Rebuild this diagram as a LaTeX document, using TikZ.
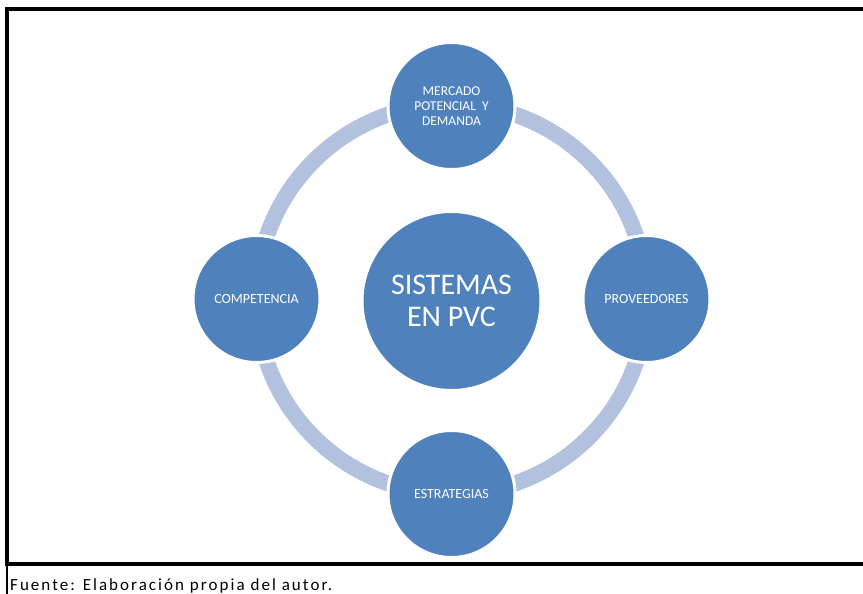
\documentclass[tikz,border=0pt]{standalone}
\usepackage{fontspec}
\setmainfont{Carlito}
\definecolor{circblue}{HTML}{4F81BD}
\definecolor{ringblue}{HTML}{B2C2DE}
\begin{document}
\begin{tikzpicture}[x=1pt,y=-1pt,
  sat/.style={circle,fill=circblue,draw=white,line width=3pt,minimum size=127pt,inner sep=0pt,
    text=white,align=center,font=\fontsize{14}{15}\selectfont},
  hub/.style={circle,fill=circblue,draw=white,line width=3pt,minimum size=179pt,inner sep=0pt,
    text=white,align=center,font=\fontsize{30}{32}\selectfont},
  ring/.style={draw=ringblue,line width=16pt}]
\useasboundingbox (0,0) rectangle (863,594);
% frame
\draw[line width=4pt] (6.5,565) -- (6.5,9) -- (863,9);
\draw[line width=4pt] (5,564) -- (863,564);
\draw[line width=2pt] (7,564) -- (7,594);
% ring
\coordinate (c) at (451.5,299);
\draw[ring] (c) circle (195);
% nodes
\node[hub] (center) at (451.5,301) {SISTEMAS\\EN PVC};
\node[sat,font=\fontsize{13.5}{15}\selectfont] (top) at (451.5,106) {MERCADO\\POTENCIAL\ \ Y\\DEMANDA};
\node[sat] (right) at (646.5,299) {PROVEEDORES};
\node[sat] (left) at (256.5,299) {COMPETENCIA};
\node[sat] (bottom) at (451.5,494) {ESTRATEGIAS};
% footer
\node[anchor=base west,inner sep=0pt,font=\addfontfeatures{LetterSpace=12}\fontsize{17}{18}\selectfont] (src) at (10,590) {Fuente: Elaboración propia del autor.};
\end{tikzpicture}
\end{document}
